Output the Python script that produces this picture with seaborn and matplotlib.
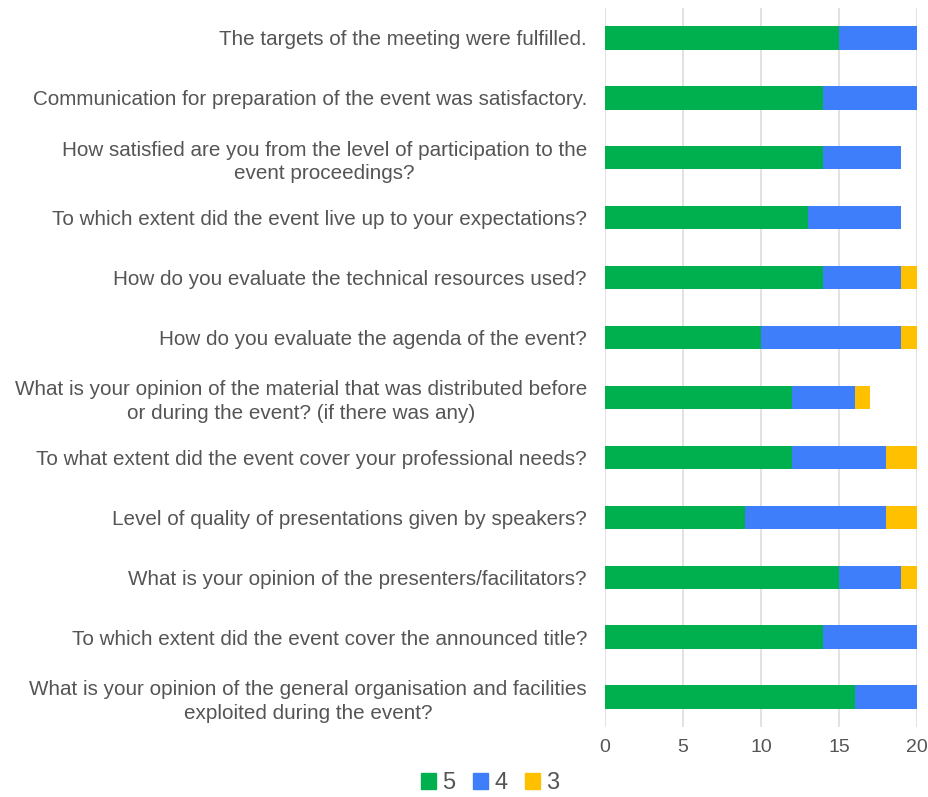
import matplotlib
matplotlib.use("Agg")
import matplotlib.pyplot as plt
import seaborn as sns
import pandas as pd
from matplotlib.patches import Patch

questions = [
    "The targets of the meeting were fulfilled.",
    "Communication for preparation of the event was satisfactory.",
    "How satisfied are you from the level of participation to the\nevent proceedings?",
    "To which extent did the event live up to your expectations?",
    "How do you evaluate the technical resources used?",
    "How do you evaluate the agenda of the event?",
    "What is your opinion of the material that was distributed before\nor during the event? (if there was any)",
    "To what extent did the event cover your professional needs?",
    "Level of quality of presentations given by speakers?",
    "What is your opinion of the presenters/facilitators?",
    "To which extent did the event cover the announced title?",
    "What is your opinion of the general organisation and facilities\nexploited during the event?",
]
score_5 = [15, 14, 14, 13, 14, 10, 12, 12, 9, 15, 14, 16]
score_4 = [5, 6, 5, 6, 5, 9, 4, 6, 9, 4, 6, 4]
score_3 = [0, 0, 0, 0, 1, 1, 1, 2, 2, 1, 0, 0]

colors = {"5": "#00B04F", "4": "#3E7EFA", "3": "#FFC000"}
text_color = "#555555"

df = pd.DataFrame({"question": questions, "s5": score_5, "s4": score_4, "s3": score_3})
df["c54"] = df["s5"] + df["s4"]
df["c543"] = df["c54"] + df["s3"]

sns.set_style("white")
plt.rcParams["font.family"] = ["Liberation Sans", "DejaVu Sans"]

fig = plt.figure(figsize=(9.29, 7.97), dpi=100)
ax = fig.add_axes([605 / 929, 70 / 797, 312 / 929, 719 / 797])

# stacked bars: draw the totals first, then overlay the smaller sums
for col, key in [("c543", "3"), ("c54", "4"), ("s5", "5")]:
    sns.barplot(data=df, x=col, y="question", orient="h", color=colors[key],
                width=0.39, saturation=1, ax=ax, linewidth=0)

ax.set_xlim(0, 20)
ax.set_ylim(11.5, -0.5)
ax.set_xticks([0, 5, 10, 15, 20])
ax.grid(axis="x", color="#DDDDDD", linewidth=1.2)
ax.set_axisbelow(True)
for s in ax.spines.values():
    s.set_visible(False)
ax.set_xlabel("")
ax.set_ylabel("")
ax.tick_params(axis="x", length=0, labelsize=14, labelcolor=text_color, pad=9)
ax.tick_params(axis="y", length=0, labelsize=14.9, labelcolor=text_color, pad=13)
for lbl in ax.get_yticklabels():
    lbl.set_multialignment("center")
    lbl.set_linespacing(1.3)

handles = [Patch(color=colors[k], label=k) for k in ["5", "4", "3"]]
fig.legend(handles=handles, loc="center", bbox_to_anchor=(490 / 929, 1 - 783 / 797),
           ncol=3, frameon=False, fontsize=17, handlelength=0.65, handleheight=0.65,
           handletextpad=0.25, columnspacing=0.75, labelcolor=text_color)

fig.savefig("out.png", dpi=100)
